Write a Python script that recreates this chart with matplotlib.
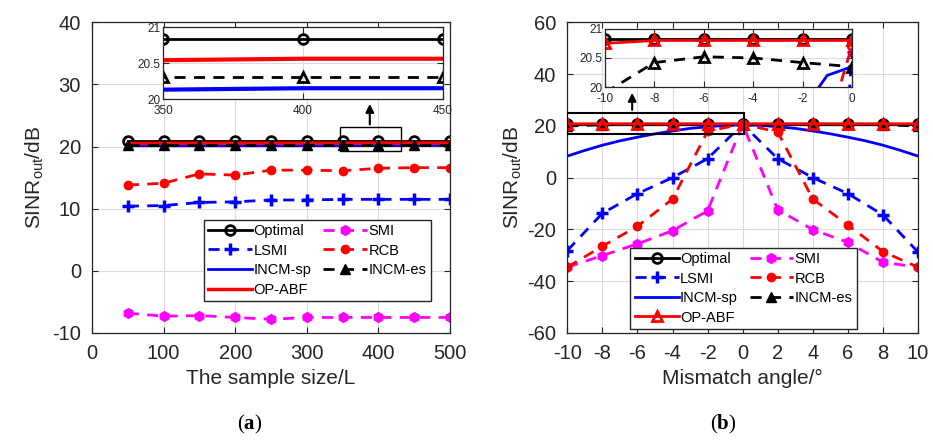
import numpy as np
import matplotlib
matplotlib.use('Agg')
import matplotlib.pyplot as plt
from matplotlib.patches import Rectangle

plt.rcParams['font.family'] = ['Liberation Sans', 'DejaVu Sans']
plt.rcParams['mathtext.fontset'] = 'custom'
plt.rcParams['mathtext.rm'] = 'Liberation Sans'
plt.rcParams['mathtext.bf'] = 'Liberation Serif:bold'
plt.rcParams['axes.unicode_minus'] = False

# ---- (a) SINR vs sample size ----
L = [50, 100, 150, 200, 250, 300, 350, 400, 450, 500]
a_optimal = [20.83, 20.83, 20.83, 20.83, 20.83, 20.83, 20.83, 20.83, 20.83, 20.83]
a_lsmi = [10.4, 10.5, 11.0, 11.1, 11.4, 11.4, 11.5, 11.5, 11.5, 11.5]
a_incm_sp = [20.12, 20.12, 20.12, 20.12, 20.12, 20.12, 20.13, 20.15, 20.15, 20.16]
a_opabf = [20.50, 20.52, 20.53, 20.53, 20.54, 20.54, 20.54, 20.56, 20.56, 20.56]
a_smi = [-6.8, -7.3, -7.2, -7.5, -7.8, -7.5, -7.5, -7.5, -7.5, -7.5]
a_rcb = [13.8, 14.1, 15.6, 15.4, 16.2, 16.2, 16.1, 16.5, 16.6, 16.6]
a_incm_es = [20.3, 20.3, 20.3, 20.3, 20.3, 20.3, 20.3, 20.3, 20.3, 20.3]

# ---- (b) SINR vs mismatch angle ----
ang = [-10, -8, -6, -4, -2, 0, 2, 4, 6, 8, 10]
b_optimal = [20.83, 20.83, 20.83, 20.83, 20.83, 20.83, 20.83, 20.83, 20.83, 20.83, 20.83]
b_lsmi = [-28.2, -13.8, -6.2, 0.0, 7.3, 20.6, 7.3, 0.0, -6.2, -14.4, -28.8]
b_opabf = [20.75, 20.80, 20.80, 20.80, 20.80, 20.80, 20.80, 20.80, 20.80, 20.80, 20.75]
b_smi = [-34.6, -30.1, -25.6, -20.5, -12.8, 20.6, -12.4, -20.1, -25.0, -32.7, -34.6]
b_rcb = [-34.6, -26.5, -18.8, -8.3, 17.9, 20.7, 17.6, -8.3, -18.3, -28.6, -34.6]
b_incm_es = [19.9, 20.42, 20.52, 20.50, 20.42, 20.35, 20.42, 20.50, 20.52, 20.42, 19.9]
ang_sp = [-10, -9, -8, -7, -6, -5, -4, -3, -2, -1, 0, 1, 2, 3, 4, 5, 6, 7, 8, 9, 10]
b_incm_sp = [8.3, 10.5, 12.5, 14.2, 15.6, 16.9, 18.0, 19.0, 19.6, 20.2, 20.35,
             20.2, 19.6, 19.0, 18.0, 16.9, 15.6, 14.2, 12.5, 10.5, 8.3]

lw = 2.0
ms = 7
gc = '#262626'
mag = '#ff00ff'


def style(ax, fs, pad):
    ax.grid(True, color='#dcdcdc', linewidth=0.8)
    ax.set_axisbelow(True)
    ax.tick_params(direction='in', top=True, right=True, labelsize=fs, colors=gc,
                   length=4, pad=pad)
    for s in ax.spines.values():
        s.set_color(gc)
        s.set_linewidth(0.9)


legend_kw = dict(ncol=2, loc='lower left', fontsize=10.5, handlelength=3,
                 fancybox=False, edgecolor=gc, framealpha=1, labelspacing=0.38,
                 columnspacing=0.8, handletextpad=0.1, borderpad=0.3, borderaxespad=0)

fig = plt.figure(figsize=(9.33, 4.44), dpi=100)

# ---------------- panel (a) ----------------
ax1 = fig.add_axes([0.0986, 0.25, 0.3837, 0.70])
ax1.plot(L, a_optimal, 'k-', marker='o', mfc='none', mew=2, ms=ms, lw=lw, label='Optimal')
ax1.plot(L, a_lsmi, 'b--', marker='+', mew=2.5, ms=ms + 2, lw=lw, dashes=(4, 3), label='LSMI')
ax1.plot(L, a_incm_sp, 'b-', lw=lw, label='INCM-sp')
ax1.plot(L, a_opabf, 'r-', lw=lw + 0.5, label='OP-ABF')
ax1.plot(L, a_smi, '--', color=mag, marker='h', ms=ms, lw=lw, dashes=(4, 3), label='SMI')
ax1.plot(L, a_rcb, '--', color='r', marker='o', ms=ms - 1, lw=lw, dashes=(4, 3), label='RCB')
ax1.plot(L, a_incm_es, 'k--', marker='^', ms=ms, lw=lw, dashes=(4, 3), label='INCM-es')
ax1.set_xlim(0, 500)
ax1.set_ylim(-10, 40)
ax1.set_xticks([0, 100, 200, 300, 400, 500])
ax1.set_yticks([-10, 0, 10, 20, 30, 40])
style(ax1, 14.5, 8)
ax1.set_xlabel('The sample size/L', fontsize=15, color=gc, labelpad=4)
ax1.set_ylabel(r'SINR$_{\mathrm{out}}$/dB', fontsize=15, color=gc, labelpad=4)
ax1.legend(bbox_to_anchor=(0.313, 0.103), **legend_kw)
ax1.add_patch(Rectangle((347, 19.3), 85, 3.8, fill=False, ec='k', lw=1.0, zorder=5))
ax1.annotate('', xy=(388, 27.3), xytext=(388, 23.1),
             arrowprops=dict(arrowstyle='-|>', color='k', lw=1.5, mutation_scale=12))

in1 = fig.add_axes([0.1747, 0.777, 0.300, 0.162])
in1.plot(L, a_optimal, 'k-', marker='o', mfc='none', mew=2, ms=ms, lw=lw)
in1.plot(L, a_incm_sp, 'b-', lw=lw + 1)
in1.plot(L, a_opabf, 'r-', lw=lw + 1)
in1.plot(L, a_incm_es, 'k--', marker='^', mfc='none', mew=2, ms=ms, lw=lw, dashes=(4, 3))
in1.set_xlim(350, 450)
in1.set_ylim(20, 21)
in1.set_xticks([350, 400, 450])
in1.set_yticks([20, 20.5, 21])
in1.set_yticklabels(['20', '20.5', '21'])
style(in1, 8.5, 2)
in1.tick_params(axis='x', pad=4)

# ---------------- panel (b) ----------------
ax2 = fig.add_axes([0.608, 0.25, 0.376, 0.70])
ax2.plot(ang, b_optimal, 'k-', marker='o', mfc='none', mew=2, ms=ms, lw=lw, label='Optimal')
ax2.plot(ang, b_lsmi, 'b--', marker='+', mew=2.5, ms=ms + 2, lw=lw, dashes=(4, 3), label='LSMI')
ax2.plot(ang_sp, b_incm_sp, 'b-', lw=lw, label='INCM-sp')
ax2.plot(ang, b_incm_es, 'k--', marker='^', ms=ms, lw=lw, dashes=(4, 3), label='INCM-es')
ax2.plot(ang, b_smi, '--', color=mag, marker='h', ms=ms, lw=lw, dashes=(4, 3), label='SMI')
ax2.plot(ang, b_rcb, '--', color='r', marker='o', ms=ms - 1, lw=lw, dashes=(4, 3), label='RCB')
ax2.plot(ang, b_opabf, 'r-', marker='^', mfc='none', mew=2, ms=ms, lw=lw, label='OP-ABF')
ax2.set_xlim(-10, 10)
ax2.set_ylim(-60, 60)
ax2.set_xticks(ang)
ax2.set_yticks([-60, -40, -20, 0, 20, 40, 60])
style(ax2, 14.5, 8)
ax2.set_xlabel('Mismatch angle/°', fontsize=15, color=gc, labelpad=4)
ax2.set_ylabel(r'SINR$_{\mathrm{out}}$/dB', fontsize=15, color=gc, labelpad=2)
h, l = ax2.get_legend_handles_labels()
order = ['Optimal', 'LSMI', 'INCM-sp', 'OP-ABF', 'SMI', 'RCB', 'INCM-es']
hs = [h[l.index(n)] for n in order]
ax2.legend(hs, order, bbox_to_anchor=(0.18, 0.013), **legend_kw)
ax2.add_patch(Rectangle((-10, 17.0), 10.05, 8.1, fill=False, ec='k', lw=1.5, zorder=5))
ax2.annotate('', xy=(-6.3, 33.8), xytext=(-6.3, 25.1),
             arrowprops=dict(arrowstyle='-|>', color='k', lw=1.5, mutation_scale=12))

in2 = fig.add_axes([0.6484, 0.804, 0.2647, 0.131])
in2.plot(ang, b_optimal, 'k-', marker='o', mfc='none', mew=2, ms=ms, lw=lw)
in2.plot(ang_sp, b_incm_sp, 'b-', lw=lw)
in2.plot(ang, b_lsmi, 'b--', marker='+', mew=2, ms=ms, lw=lw, dashes=(4, 3))
in2.plot(ang, b_rcb, 'r--', marker='o', mfc='none', mew=2, ms=ms - 1, lw=lw, dashes=(4, 3))
in2.plot(ang, b_incm_es, 'k--', marker='^', mfc='none', mew=2, ms=ms, lw=lw, dashes=(4, 3))
in2.plot(ang, b_opabf, 'r-', marker='^', mfc='none', mew=2, ms=ms, lw=lw)
in2.set_xlim(-10, 0)
in2.set_ylim(20, 21)
in2.set_xticks([-10, -8, -6, -4, -2, 0])
in2.set_yticks([20, 20.5, 21])
in2.set_yticklabels(['20', '20.5', '21'])
style(in2, 8.5, 2)
in2.tick_params(axis='x', pad=4)

fig.text(0.268, 0.043, r'($\mathbf{a}$)', fontsize=15, family='Liberation Serif', ha='center', va='center')
fig.text(0.775, 0.043, r'($\mathbf{b}$)', fontsize=15, family='Liberation Serif', ha='center', va='center')

fig.savefig('out.png', dpi=100)
